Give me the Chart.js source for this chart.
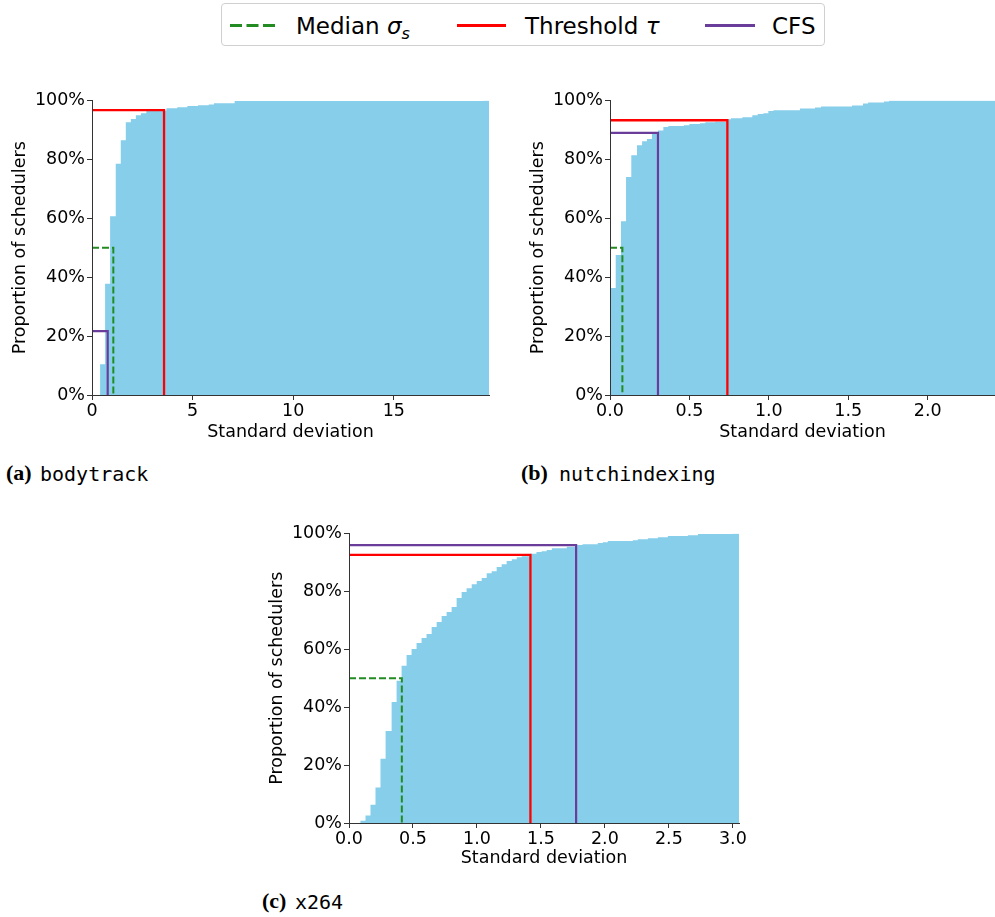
<!DOCTYPE html>
<html><head><meta charset="utf-8">
<script src="https://cdn.jsdelivr.net/npm/chart.js@4.4.1/dist/chart.umd.min.js"></script>
<style>
html,body{margin:0;padding:0;background:#fff;width:995px;height:917px;overflow:hidden;position:relative;font-family:'DejaVu Sans';}
canvas{position:absolute;}
#legendBox{position:absolute;left:221px;top:3px;width:604px;height:43px;border:1px solid #d0d0d0;border-radius:4px;box-sizing:border-box;}
.lg{position:absolute;top:14.5px;font-family:'DejaVu Sans';font-size:23px;line-height:23px;color:#000;white-space:nowrap;}
.lg i{font-style:italic;}
.lg sub{font-size:0.7em;vertical-align:-0.3em;line-height:0;}
.cap{position:absolute;font-size:20px;line-height:20px;white-space:nowrap;color:#000;}
.capL{font-family:'Liberation Serif';font-weight:bold;font-size:22px;}
.capM{font-family:'DejaVu Sans Mono';}
</style></head>
<body>
<div id="legendBox"></div>
<svg style="position:absolute;left:0;top:0" width="995" height="50">
  <line x1="230" y1="25.5" x2="278" y2="25.5" stroke="#228B22" stroke-width="3" stroke-dasharray="12,4.5"/>
  <line x1="457" y1="25.5" x2="506" y2="25.5" stroke="#ff0000" stroke-width="3"/>
  <line x1="705" y1="25.5" x2="755" y2="25.5" stroke="#6a3d9a" stroke-width="3"/>
</svg>
<div class="lg" style="left:296px">Median <i>σ<sub>s</sub></i></div>
<div class="lg" style="left:525px">Threshold <i>τ</i></div>
<div class="lg" style="left:772px">CFS</div>

<canvas id="cA" width="495" height="355" style="left:0px;top:88px"></canvas>
<canvas id="cB" width="477" height="355" style="left:518px;top:88px"></canvas>
<canvas id="cC" width="497" height="348" style="left:257px;top:521px"></canvas>

<div class="cap capL" style="left:6px;top:463px">(a)</div>
<div class="cap capM" style="left:40px;top:464px">bodytrack</div>
<div class="cap capL" style="left:521px;top:463px">(b)</div>
<div class="cap capM" style="left:559px;top:464px">nutchindexing</div>
<div class="cap capL" style="left:262px;top:891px">(c)</div>
<div class="cap capM" style="left:295px;top:892px">x264</div>

<script>
// ---- (a) bodytrack ----
const bodytrackStepX = [0.40,0.65,0.90,1.18,1.43,1.68,1.93,2.18,2.43,2.70,3.70,4.24,4.74,5.27,5.80,6.06,7.09,19.45];
const bodytrackStepY = [10.4,37.8,60.7,78.5,86.5,92.6,93.7,95.0,95.7,96.6,97.4,97.7,98.1,98.4,98.6,99.1,99.8,100];
const bodytrackXTicks = [0,5,10,15];
// ---- (b) nutchindexing ----
const nutchStepX = [0.000,0.036,0.069,0.101,0.134,0.170,0.202,0.233,0.264,0.302,0.336,0.367,0.466,0.500,0.567,0.600,0.661,0.741,0.762,0.833,0.896,0.930,0.966,0.997,1.029,1.196,1.291,1.329,1.524,1.593,1.625,1.725,1.757];
const nutchStepY = [36.3,47.5,59.0,74.0,81.4,84.8,86.2,86.9,88.8,89.8,91.0,91.3,91.6,92.0,92.3,92.6,92.8,93.6,94.0,94.3,95.0,95.4,95.7,96.4,96.7,97.3,97.6,98.0,98.3,99.0,99.3,99.7,100];
const nutchXTicks = [0,0.5,1.0,1.5,2.0];
// ---- (c) x264 ----
const x264StepX = [0.088,0.129,0.168,0.207,0.246,0.286,0.333,0.372,0.411,0.450,0.489,0.528,0.567,0.606,0.646,0.685,0.724,0.763,0.802,0.841,0.880,0.919,0.959,0.998,1.037,1.076,1.115,1.154,1.193,1.232,1.272,1.311,1.350,1.415,1.465,1.506,1.545,1.585,1.702,1.772,1.825,1.944,1.984,2.023,2.218,2.257,2.336,2.414,2.492,2.649,2.727,3.001];
const x264StepY = [0.8,2.6,6.3,12.3,22.2,31.8,41.8,49.1,54.3,58.0,60.1,62.2,63.9,65.3,67.7,69.4,71.5,72.9,74.6,77.7,79.8,81.1,82.5,83.6,84.6,86.3,87.0,88.4,89.4,90.5,91.1,91.8,92.1,93.0,93.6,93.9,94.3,94.9,95.4,96.0,96.3,96.7,97.0,97.4,97.7,98.0,98.4,98.7,99.1,99.4,99.8,100];
const x264XTicks = [0,0.5,1.0,1.5,2.0,2.5,3.0];
// ---- axis ranges and reference lines, order: a, b, c ----
const xMaxes = [19.73, 2.424, 3.048];
const yTicks = [0,20,40,60,80,100];
const medianX = [1.06, 0.078, 0.413];   // median sigma_s (at 50%)
const medianY = [50, 50, 50];
const thresholdX = [3.58, 0.739, 1.418];
const thresholdY = [96.7, 93.3, 92.6];
const cfsX = [0.78, 0.302, 1.775];
const cfsY = [21.7, 89.0, 96.0];

const FONT = {family:"'DejaVu Sans'", size:17.5};
const SPINE = '#333';

function build(id, k, stepX, stepY, xTicks, dec, padRight, xH) {
  const hist = stepX.map((x,i)=>({x:x, y:stepY[i]}));
  hist.push({x:xMaxes[k], y:stepY[stepY.length-1]});
  const common = {fill:false, pointRadius:0, pointHoverRadius:0, tension:0,
                  borderCapStyle:'butt', borderJoinStyle:'miter', order:1};
  new Chart(document.getElementById(id), {
    type:'line',
    data:{datasets:[
      Object.assign({data:[{x:0,y:medianY[k]},{x:medianX[k],y:medianY[k]},{x:medianX[k],y:0}],
        borderColor:'#228B22', borderDash:[7,3], borderWidth:2}, common),
      Object.assign({data:[{x:0,y:thresholdY[k]},{x:thresholdX[k],y:thresholdY[k]},{x:thresholdX[k],y:0}],
        borderColor:'#ff0000', borderWidth:2.3}, common),
      Object.assign({data:[{x:0,y:cfsY[k]},{x:cfsX[k],y:cfsY[k]},{x:cfsX[k],y:0}],
        borderColor:'#6a3d9a', borderWidth:2.2}, common),
      {data:hist, stepped:'before', fill:'origin', backgroundColor:'#87CEEB',
       borderColor:'rgba(0,0,0,0)', borderWidth:0, pointRadius:0, pointHoverRadius:0, order:10}
    ]},
    options:{
      responsive:false, animation:false, devicePixelRatio:1,
      events:[],
      layout:{padding:{top:12, right:padRight, bottom:0, left:0}},
      plugins:{legend:{display:false}, tooltip:{enabled:false}},
      scales:{
        x:{type:'linear', min:0, max:xMaxes[k],
          afterBuildTicks: s => { s.ticks = xTicks.map(v=>({value:v})); },
          ticks:{font:FONT, color:'#000', padding:1, maxRotation:0, minRotation:0, autoSkip:false,
                 callback: v => dec ? Number(v).toFixed(1) : String(v)},
          grid:{display:true, drawOnChartArea:false, drawTicks:true, tickLength:5, color:SPINE, lineWidth:1},
          border:{display:true, color:SPINE, width:1, z:1},
          title:{display:true, text:'Standard deviation', font:FONT, color:'#000', padding:0},
          afterFit: s => { s.height = xH; }
        },
        y:{type:'linear', min:0, max:100,
          afterBuildTicks: s => { s.ticks = yTicks.map(v=>({value:v})); },
          ticks:{font:FONT, color:'#000', padding:2, callback: v => v + '%'},
          grid:{display:true, drawOnChartArea:false, drawTicks:true, tickLength:5, color:SPINE, lineWidth:1},
          border:{display:true, color:SPINE, width:1, z:1},
          title:{display:true, text:'Proportion of schedulers', font:FONT, color:'#000', padding:{top:10, bottom:0}},
          afterFit: s => { s.width = 92; }
        }
      }
    }
  });
}
build('cA', 0, bodytrackStepX, bodytrackStepY, bodytrackXTicks, false, 6, 48);
build('cB', 1, nutchStepX, nutchStepY, nutchXTicks, true, 0, 48);
build('cC', 2, x264StepX, x264StepY, x264XTicks, true, 15, 46);
</script>
</body></html>
